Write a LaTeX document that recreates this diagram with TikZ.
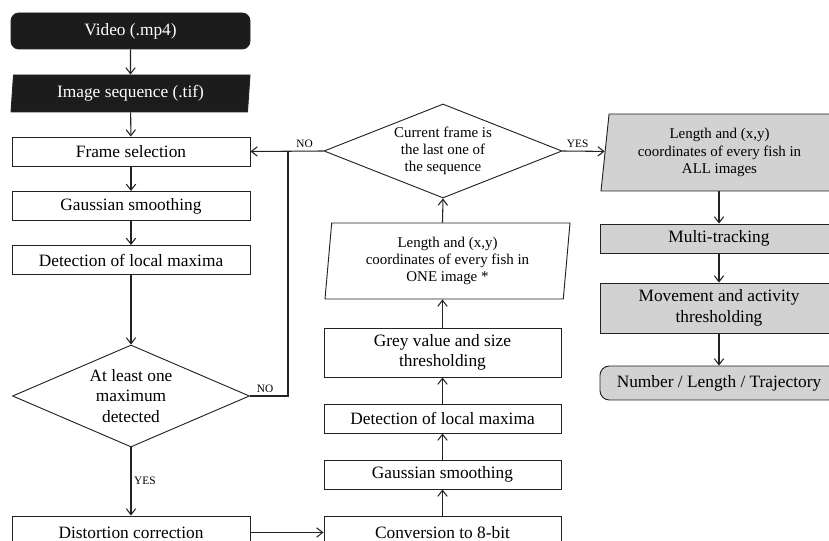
\documentclass[tikz,border=0pt]{standalone}
\usepackage{fontspec}
\setmainfont{Liberation Serif}
\usepackage{tikz}
\usetikzlibrary{positioning, shapes.geometric, arrows.meta}
\definecolor{ink}{RGB}{35,35,35}
\definecolor{outbg}{RGB}{210,210,210}
\definecolor{inbg}{RGB}{28,28,28}
\newcommand{\boxfont}{\fontsize{13}{15.5}\selectfont}
\newcommand{\notefont}{\fontsize{11.2}{12.8}\selectfont}
\tikzset{
  process/.style={rectangle, draw=ink, line width=0.7pt, minimum width=178.5pt, minimum height=21.75pt, inner sep=1pt, font=\boxfont, align=center},
  terminal/.style={process, rounded corners=6pt},
  io/.style={trapezium, trapezium stretches body, draw=ink, line width=0.7pt, inner sep=0pt, font=\notefont, align=center},
  decision/.style={diamond, draw=ink, line width=0.7pt, inner sep=0pt, align=center},
  flow/.style={draw=ink, line width=0.8pt, -{Straight Barb[length=4.5pt, width=7pt]}},
  branch/.style={font=\fontsize{8.5}{10}\selectfont, inner sep=2pt},
}

\begin{document}
\begin{tikzpicture}[x=0.75pt, y=-0.75pt]
\useasboundingbox (0,0) rectangle (829,541);
\clip (0,0) rectangle (829,541);

% left column
\node[terminal, fill=inbg, text=white, minimum width=179.25pt, minimum height=27pt] (video) at (130.5,31) {Video (.mp4)};
\node[io, fill=inbg, text=white, font=\boxfont, trapezium left angle=81, trapezium right angle=99,
  minimum width=179.25pt, minimum height=27.75pt] (imgseq) at (130.5,93.5) {Image sequence (.tif)};
\node[process] (frame) at (131,151.5) {Frame selection};
\node[process] (gauss1) at (131,206) {Gaussian smoothing};
\node[process] (detect1) at (131,260) {Detection of local maxima};
\node[decision, font=\boxfont, aspect=2.32, minimum width=177.75pt, minimum height=76.5pt] (found) at (131,396)
  {At least one\\ maximum\\ detected};
\node[process, minimum height=24.75pt] (distort) at (131,532.5) {Distortion correction};
\coordinate (loop) at (288,396);

% middle column
\node[process, minimum width=177.75pt, minimum height=24.75pt] (convert) at (442.5,532.5) {Conversion to 8-bit};
\node[process, minimum width=177.75pt] (gauss2) at (442.5,474.5) {Gaussian smoothing};
\node[process, minimum width=177.75pt] (detect2) at (442.5,418.5) {Detection of local maxima};
\node[process, minimum width=177.75pt, minimum height=36.75pt] (thresh) at (442.5,352.5)
  {Grey value and size\\ thresholding};
\node[io, trapezium left angle=82, trapezium right angle=98, minimum width=183.75pt, minimum height=57pt]
  (onefish) at (447.5,261) {Length and (x,y)\\ coordinates of every fish in\\ ONE image *};
\node[decision, font=\notefont, aspect=2.53, minimum width=178.5pt, minimum height=70.5pt] (lastframe) at (443,151)
  {Current frame is\\ the last one of\\ the sequence};

% right column
\node[io, fill=outbg, trapezium left angle=80.4, trapezium right angle=99.6, minimum width=177.75pt, minimum height=57.75pt]
  (allfish) at (719.5,152.5) {Length and (x,y)\\ coordinates of every fish in\\ ALL images};
\node[process, fill=outbg] (track) at (719,238.5) {Multi-tracking};
\node[process, fill=outbg, minimum height=37.5pt] (activity) at (719,308) {Movement and activity\\ thresholding};
\node[terminal, fill=outbg, rounded corners=7pt, minimum height=25.5pt] (result) at (719,383)
  {Number / Length / Trajectory};

% connectors
\draw[flow] (video) -- (imgseq);
\draw[flow] (imgseq) -- (frame);
\draw[flow] (frame) -- (gauss1);
\draw[flow] (gauss1) -- (detect1);
\draw[flow] (detect1) -- (found);
\draw[flow] (found) -- node[branch, right, pos=0.49] {YES} (distort);
\draw[draw=ink, line width=0.8pt] (found.east) -- node[branch, above, pos=0.4] {NO} (loop) -- (loop |- lastframe.west);
\draw[flow] (distort) -- (convert);
\draw[flow] (convert) -- (gauss2);
\draw[flow] (gauss2) -- (detect2);
\draw[flow] (detect2) -- (thresh);
\draw[flow] (thresh.north) -- (thresh.north |- onefish.south);
\draw[flow] (thresh.north |- onefish.north) -- (lastframe.south);
\draw[flow] (lastframe.west) -- node[branch, above, pos=0.26] {NO} (frame.east);
\draw[flow] (lastframe.east) -- node[branch, above, pos=0.36] {YES} (allfish);
\draw[flow] (allfish.south -| track.north) -- (track);
\draw[flow] (track) -- (activity);
\draw[flow] (activity) -- (result);
\end{tikzpicture}
\end{document}
